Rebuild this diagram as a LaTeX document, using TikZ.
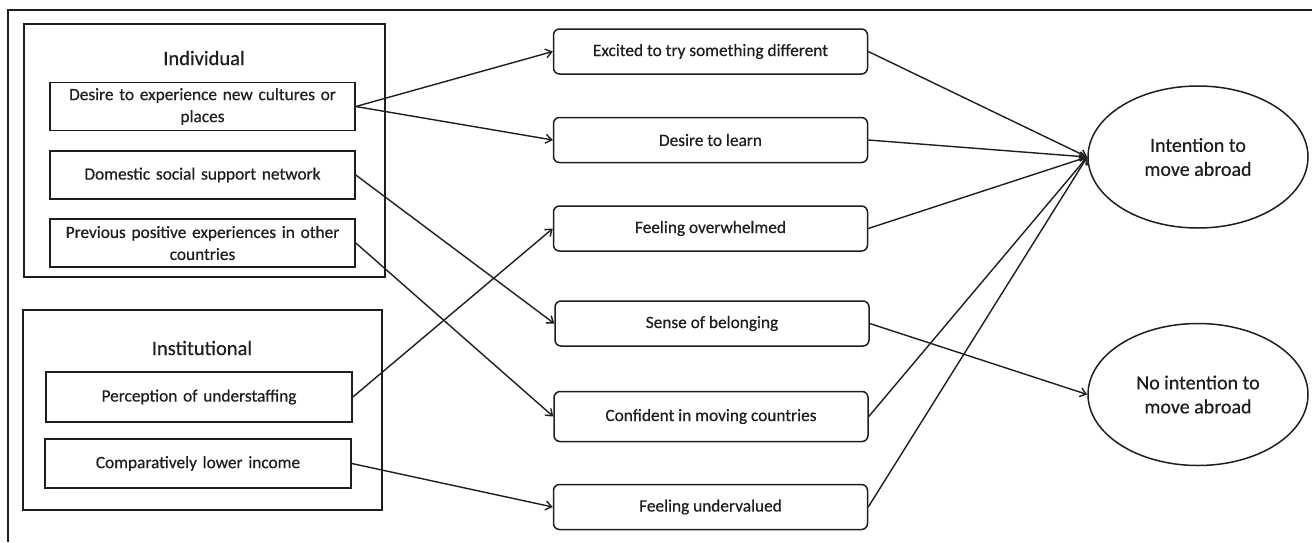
\documentclass[tikz,border=0pt]{standalone}
\usepackage{fontspec}
\setmainfont{Carlito}[RawFeature={embolden=0.5}]
\usetikzlibrary{arrows.meta,shapes.geometric}
\definecolor{ink}{HTML}{1E1E1E}
\tikzset{
  frame/.style={draw=ink,line width=1.3pt},
  group/.style={draw=ink,line width=1.5pt},
  factor/.style={draw=ink,line width=1.6pt,minimum height=48pt,inner sep=2pt,align=center,text width=300pt,font=\fontsize{17.3}{22}\selectfont,text=ink},
  mid/.style={draw=ink,line width=1.5pt,rounded corners=6pt,minimum width=314pt,minimum height=45pt,font=\fontsize{17.3}{21}\selectfont,text=ink},
  outcome/.style={draw=ink,line width=1.5pt,ellipse,minimum width=220pt,minimum height=142pt,inner sep=0pt,align=center,font=\fontsize{20}{24}\selectfont,text=ink},
  head/.style={font=\fontsize{20.5}{24}\selectfont,text=ink},
  link/.style={draw=ink,line width=1.4pt,-{Straight Barb[length=6pt,width=9pt]}}
}
\begin{document}
\begin{tikzpicture}[x=1pt,y=-1pt]
\useasboundingbox (0,0) rectangle (1312,542);
\draw[frame] (8,542) -- (8,10) -- (1312,10);
% groups
\draw[group] (24,24) rectangle (385,277);
\draw[group] (23,310) rectangle (382,510);
\node[head] (hind) at (204,58) {Individual};
\node[head] (hinst) at (202,348) {Institutional};
% factors
\node[factor,minimum width=305pt] (f1) at (202.5,106.5) {Desire to experience new cultures or\\places};
\node[factor,minimum width=305pt] (f2) at (202.5,175) {Domestic social support network};
\node[factor,minimum width=305pt] (f3) at (202.5,243) {Previous positive experiences in other\\countries};
\node[factor,minimum width=306pt,minimum height=50pt] (f4) at (199,397) {Perception of understaffing};
\node[factor,minimum width=306pt,minimum height=49pt] (f5) at (198,463.5) {Comparatively lower income};
% mediators
\node[mid] (m1) at (710.5,51.5) {Excited to try something different};
\node[mid] (m2) at (710.5,140) {Desire to learn};
\node[mid] (m3) at (710.5,228.5) {Feeling overwhelmed};
\node[mid] (m4) at (712,323.5) {Sense of belonging};
\node[mid,minimum height=50pt] (m5) at (711,416.5) {Confident in moving countries};
\node[mid] (m6) at (710.5,507) {Feeling undervalued};
% outcomes
\node[outcome] (o1) at (1198,157) {Intention to\\move abroad};
\node[outcome] (o2) at (1198,394.5) {No intention to\\move abroad};
% links
\draw[link] (f1.east) -- (m1.west);
\draw[link] (f1.east) -- (m2.west);
\draw[link] (f2.east) -- (m4.west);
\draw[link] (f3.east) -- (m5.west);
\draw[link] (f4.east) -- (m3.west);
\draw[link] (f5.east) -- (m6.west);
\draw[link] (m1.east) -- (o1.west);
\draw[link] (m2.east) -- (o1.west);
\draw[link] (m3.east) -- (o1.west);
\draw[link] (m5.east) -- (o1.west);
\draw[link] (m6.east) -- (o1.west);
\draw[link] (m4.east) -- (o2.west);
\end{tikzpicture}
\end{document}
